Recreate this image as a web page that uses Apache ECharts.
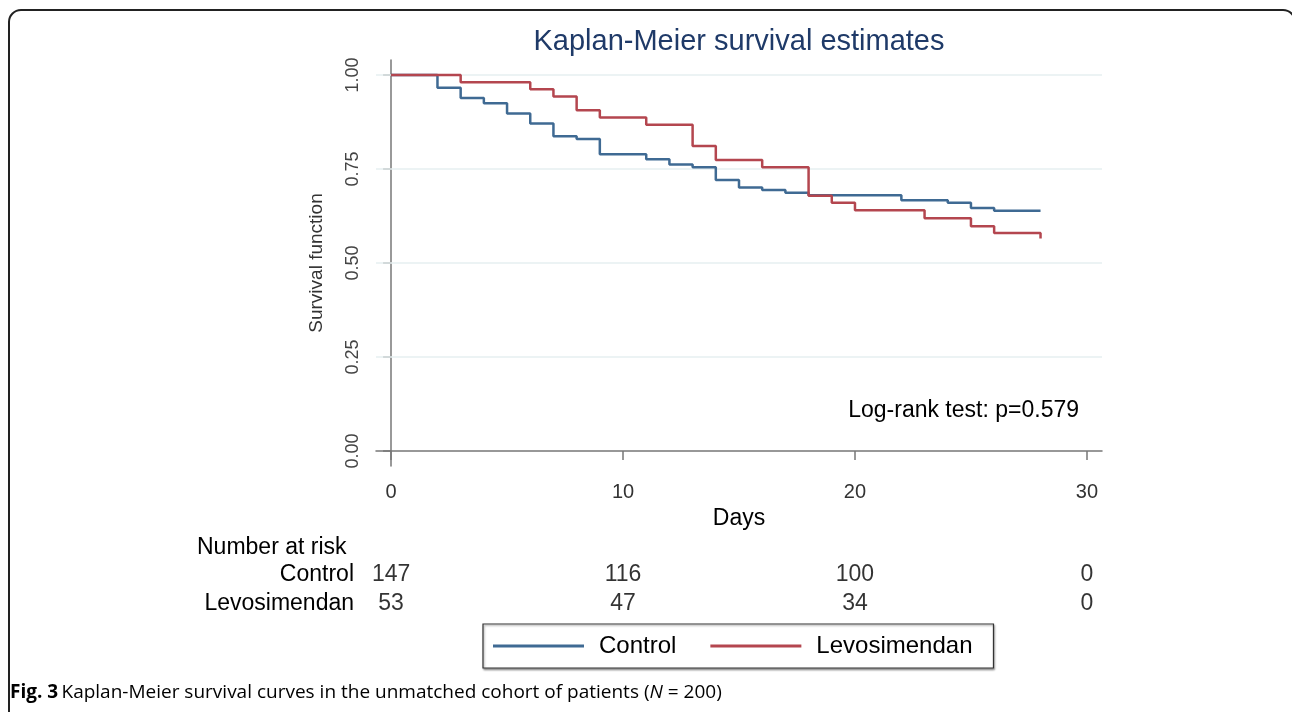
<!DOCTYPE html>
<html>
<head>
<meta charset="utf-8">
<script src="https://cdn.jsdelivr.net/npm/echarts@6/dist/echarts.min.js"></script>
<style>
html,body{margin:0;padding:0;background:#fff;}
#chart{width:1292px;height:712px;}
</style>
</head>
<body>
<div id="chart"></div>
<script>
// ---- data ----
const controlDays   = [0, 2, 3, 4, 5, 6, 7, 8, 9, 11, 12, 13, 14, 15, 16, 17, 18, 22, 24, 25, 26, 28];
const controlSurv   = [1.000, 0.966, 0.939, 0.925, 0.898, 0.871, 0.837, 0.830, 0.789, 0.776, 0.762, 0.755, 0.721, 0.701, 0.694, 0.687, 0.680, 0.667, 0.660, 0.646, 0.639, 0.639];
const levoDays      = [0, 3, 6, 7, 8, 9, 11, 13, 14, 16, 18, 19, 20, 23, 25, 26, 28];
const levoSurv      = [1.000, 0.981, 0.962, 0.943, 0.906, 0.887, 0.868, 0.811, 0.774, 0.755, 0.679, 0.660, 0.640, 0.619, 0.598, 0.580, 0.565];
const riskDays      = [0, 10, 20, 30];
const riskControl   = [147, 116, 100, 0];
const riskLevo      = [53, 47, 34, 0];
const groups        = ['Control', 'Levosimendan'];
const xTicks        = [0, 10, 20, 30];
const yTicks        = [0, 0.25, 0.5, 0.75, 1.0];
const gridValues    = [0.25, 0.5, 0.75, 1.0];

const FONT = 'Liberation Sans, Arial, sans-serif';
const BLUE = '#3f6a93';
const RED = '#b4464f';
const X_MIN = -0.65, X_MAX = 30.65;

const chart = echarts.init(document.getElementById('chart'), null, {renderer: 'canvas'});

const toPairs = (xs, ys) => xs.map((x, i) => [x, ys[i]]);
const riskData = (vals, g) => riskDays.map((d, i) => [d, g, vals[i]]);

const gridSeries = gridValues.map(v => ({
  name: 'grid' + v, type: 'line', xAxisIndex: 0, yAxisIndex: 0, silent: true, z: 1,
  data: [[X_MIN, v], [X_MAX, v]], showSymbol: false, symbol: 'none',
  lineStyle: {color: '#e6eff1', width: 1.5}, tooltip: {show: false}
}));

const option = {
  backgroundColor: '#fff',
  animation: false,
  title: {
    text: 'Kaplan-Meier survival estimates',
    left: 734, top: 22, textAlign: 'center',
    textStyle: {fontFamily: FONT, fontSize: 29, fontWeight: 'normal', color: '#1f3a68'}
  },
  grid: [
    {left: 376, right: 190, top: 60, bottom: 246},
    {left: 376, right: 190, top: 560, height: 58}
  ],
  xAxis: [
    {
      type: 'value', gridIndex: 0, min: X_MIN, max: X_MAX,
      name: 'Days', nameLocation: 'middle', nameGap: 40,
      nameTextStyle: {fontFamily: FONT, fontSize: 23, color: '#000'},
      axisLine: {show: true, lineStyle: {color: '#777', width: 1.5}},
      axisTick: {show: true, length: 9, customValues: xTicks, lineStyle: {color: '#777', width: 1.5}},
      axisLabel: {customValues: xTicks, fontFamily: FONT, fontSize: 20, color: '#333', margin: 16},
      splitLine: {show: false}
    },
    {
      type: 'value', gridIndex: 1, min: X_MIN, max: X_MAX, show: false
    }
  ],
  yAxis: [
    {
      type: 'value', gridIndex: 0, min: -0.04, max: 1.04,
      name: 'Survival function', nameLocation: 'middle', nameGap: 50,
      nameTextStyle: {fontFamily: FONT, fontSize: 19, color: '#333'},
      axisLine: {show: true, lineStyle: {color: '#777', width: 1.5}},
      axisTick: {show: true, length: 8, customValues: yTicks, lineStyle: {color: '#777', width: 1.5}},
      axisLabel: {customValues: yTicks, rotate: 90, fontFamily: FONT, fontSize: 18, color: '#444', margin: 14,
        formatter: v => Number(v).toFixed(2)},
      splitLine: {show: false}
    },
    {
      type: 'category', gridIndex: 1, data: groups, inverse: true,
      axisLine: {show: false}, axisTick: {show: false},
      axisLabel: {interval: 0, fontFamily: FONT, fontSize: 23, color: '#000', margin: 22}
    }
  ],
  legend: {
    left: 483, top: 624,
    data: [{name: 'Control', icon: 'rect'}, {name: 'Levosimendan', icon: 'rect'}],
    itemWidth: 91, itemHeight: 3, itemGap: 34,
    padding: [10, 21, 10, 10],
    borderColor: '#333', borderWidth: 1.2, borderRadius: 0,
    shadowColor: 'rgba(0,0,0,0.35)', shadowBlur: 2, shadowOffsetX: 1, shadowOffsetY: 1.5,
    backgroundColor: '#fff',
    textStyle: {fontFamily: FONT, fontSize: 24, color: '#000', padding: [0, 0, 0, 10]}
  },
  graphic: [
    {type: 'rect', shape: {x: 9, y: 10, width: 1286, height: 760, r: 12},
     style: {fill: 'none', stroke: '#222', lineWidth: 2}, z: 0},
    {type: 'text', left: 197, top: 536,
     style: {text: 'Number at risk', fontFamily: FONT, fontSize: 23, fill: '#000'}},
    {type: 'text', right: 213, top: 399,
     style: {text: 'Log-rank test: p=0.579', fontFamily: FONT, fontSize: 23, fill: '#000'}},
    {type: 'text', left: 10, top: 683,
     style: {rich: {b: {fontFamily: 'Open Sans, sans-serif', fontWeight: 'bold', fontSize: 19, fill: '#000'},
                    r: {fontFamily: 'Open Sans, sans-serif', fontSize: 19, fill: '#000'},
                    i: {fontFamily: 'Open Sans, sans-serif', fontStyle: 'italic', fontSize: 19, fill: '#000'}},
             text: '{b|Fig. 3} {r|Kaplan-Meier survival curves in the unmatched cohort of patients (}{i|N}{r| = 200)}'}}
  ],
  series: gridSeries.concat([
    {
      name: 'Control', type: 'line', step: 'end', xAxisIndex: 0, yAxisIndex: 0, z: 3,
      data: toPairs(controlDays, controlSurv), showSymbol: false, symbol: 'none',
      color: BLUE, lineStyle: {color: BLUE, width: 2.5}
    },
    {
      name: 'Levosimendan', type: 'line', step: 'end', xAxisIndex: 0, yAxisIndex: 0, z: 3,
      data: toPairs(levoDays, levoSurv), showSymbol: false, symbol: 'none',
      color: RED, lineStyle: {color: RED, width: 2.5}
    },
    {
      name: 'riskControl', type: 'scatter', xAxisIndex: 1, yAxisIndex: 1, symbolSize: 0,
      data: riskData(riskControl, groups[0]), silent: true,
      label: {show: true, position: 'inside', formatter: p => String(p.value[2]),
        fontFamily: FONT, fontSize: 23, color: '#000'}
    },
    {
      name: 'riskLevo', type: 'scatter', xAxisIndex: 1, yAxisIndex: 1, symbolSize: 0,
      data: riskData(riskLevo, groups[1]), silent: true,
      label: {show: true, position: 'inside', formatter: p => String(p.value[2]),
        fontFamily: FONT, fontSize: 23, color: '#000'}
    }
  ])
};
chart.setOption(option);
</script>
</body>
</html>
